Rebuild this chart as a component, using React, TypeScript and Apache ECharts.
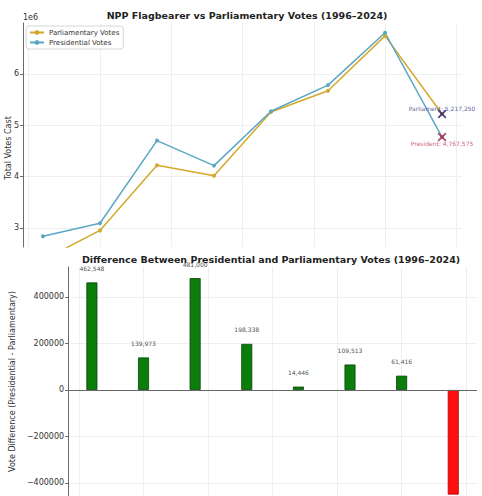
import React, { useEffect, useRef } from "react";
import * as echarts from "echarts";

const years = [1996, 2000, 2004, 2008, 2012, 2016, 2020, 2024];
const parliamentaryVotes = [2372330, 2950027, 4219000, 4013662, 5255554, 5670487, 6738584, 5217250];
const presidentialVotes = [2834878, 3090000, 4700000, 4212000, 5270000, 5780000, 6800000, 4767575];
const voteDifferences = [462548, 139973, 481000, 198338, 14446, 109513, 61416, -449675];
const lastParliament = [2024, 5217250];
const lastPresident = [2024, 4767575];

const FONT = "DejaVu Sans";
const fmt = (n: number) => Math.round(n).toLocaleString("en-US");
const xMark =
  "path://M0,1.5 L1.5,0 L5,3.5 L8.5,0 L10,1.5 L6.5,5 L10,8.5 L8.5,10 L5,6.5 L1.5,10 L0,8.5 L3.5,5 Z";

export default function App() {
  const ref = useRef<HTMLDivElement>(null);
  useEffect(() => {
    if (!ref.current) return;
    const chart = echarts.init(ref.current, undefined, { renderer: "svg" });
    const gridLine = { show: true, showMinLine: false, showMaxLine: false, lineStyle: { color: "#ebebeb", width: 0.8 } };
    const option: any = {
      animation: false,
      backgroundColor: "#ffffff",
      textStyle: { fontFamily: FONT },
      title: [
        {
          text: "NPP Flagbearer vs Parliamentary Votes (1996–2024)",
          left: 242,
          textAlign: "center",
          top: 5,
          textStyle: { fontSize: 9.5, fontWeight: "bold", color: "#222", fontFamily: FONT },
          z: 10,
        },
        {
          text: "Difference Between Presidential and Parliamentary Votes (1996–2024)",
          left: 266,
          textAlign: "center",
          top: 249,
          textStyle: { fontSize: 9.5, fontWeight: "bold", color: "#222", fontFamily: FONT },
          z: 10,
        },
      ],
      legend: {
        data: ["Parliamentary Votes", "Presidential Votes"],
        orient: "vertical",
        left: 26,
        top: 26,
        padding: [3, 4, 3, 3],
        itemGap: 3,
        itemWidth: 14,
        itemHeight: 6,
        borderColor: "#cccccc",
        borderWidth: 0.8,
        borderRadius: 3,
        backgroundColor: "rgba(255,255,255,0.85)",
        textStyle: { fontSize: 7, color: "#333", fontFamily: FONT },
      },
      graphic: [
        {
          type: "text",
          x: 8,
          y: 148,
          rotation: Math.PI / 2,
          style: {
            text: "Total Votes Cast",
            fontSize: 8,
            fontFamily: FONT,
            fill: "#333",
            align: "center",
            verticalAlign: "middle",
          },
        },
      ],
      grid: [
        { left: 23, right: 20, top: 23, height: 224 },
        { left: 55, right: 5, top: 267, bottom: 0 },
      ],
      xAxis: [
        {
          type: "value",
          gridIndex: 0,
          min: 1994.6,
          max: 2025.4,
          axisLine: { show: false },
          axisTick: { show: false },
          axisLabel: { show: false },
          splitLine: gridLine,
        },
        {
          type: "value",
          gridIndex: 1,
          min: 1994.16,
          max: 2025.84,
          axisLine: { show: false },
          axisTick: { show: false },
          axisLabel: { show: false },
          splitLine: gridLine,
        },
      ],
      yAxis: [
        {
          type: "value",
          gridIndex: 0,
          min: 2627000,
          max: 6990000,
          name: "1e6",
          nameLocation: "end",
          nameGap: 2,
          nameTextStyle: { align: "left", fontSize: 8, color: "#333", fontFamily: FONT },
          axisLine: { show: true, lineStyle: { color: "#444", width: 0.8 } },
          axisTick: { show: true, length: 3, lineStyle: { color: "#444", width: 0.8 } },
          axisLabel: {
            fontSize: 8,
            color: "#333",
            margin: 4,
            showMinLabel: false,
            showMaxLabel: false,
            formatter: (v: number) => String(Math.round(v / 1e6)),
          },
          splitLine: gridLine,
        },
        {
          type: "value",
          gridIndex: 1,
          min: -456000,
          max: 529000,
          name: "Vote Difference (Presidential - Parliamentary)",
          nameLocation: "middle",
          nameGap: 50,
          nameTextStyle: { fontSize: 8, color: "#333", fontFamily: FONT },
          axisLine: { show: true, onZero: false, lineStyle: { color: "#444", width: 0.8 } },
          axisTick: { show: true, length: 3, lineStyle: { color: "#444", width: 0.8 } },
          axisLabel: {
            fontSize: 8,
            color: "#333",
            margin: 4,
            showMinLabel: false,
            showMaxLabel: false,
            formatter: (v: number) => (v < 0 ? "\u2212" + Math.abs(v) : String(v)),
          },
          splitLine: gridLine,
        },
      ],
      series: [
        {
          name: "Parliamentary Votes",
          type: "line",
          xAxisIndex: 0,
          yAxisIndex: 0,
          data: years.map((y, i) => [y, parliamentaryVotes[i]]),
          symbol: "circle",
          symbolSize: 4,
          clip: true,
          color: "#d4a82a",
          lineStyle: { width: 1.5, color: "#d4a82a" },
          itemStyle: { color: "#d4a82a" },
          z: 3,
        },
        {
          name: "Presidential Votes",
          type: "line",
          xAxisIndex: 0,
          yAxisIndex: 0,
          data: years.map((y, i) => [y, presidentialVotes[i]]),
          symbol: "circle",
          symbolSize: 4,
          clip: true,
          color: "#5aa7c3",
          lineStyle: { width: 1.5, color: "#5aa7c3" },
          itemStyle: { color: "#5aa7c3" },
          z: 3,
        },
        {
          name: "ParliamentMark",
          type: "scatter",
          xAxisIndex: 0,
          yAxisIndex: 0,
          data: [lastParliament],
          symbol: xMark,
          symbolSize: 9,
          itemStyle: { color: "#241c6e" },
          label: {
            show: true,
            position: "inside",
            offset: [0, -6],
            fontSize: 6,
            color: "#30307a",
            fontFamily: FONT,
            formatter: (p: any) => "Parliament: " + fmt(p.value[1]),
          },
          z: 5,
        },
        {
          name: "PresidentMark",
          type: "scatter",
          xAxisIndex: 0,
          yAxisIndex: 0,
          data: [lastPresident],
          symbol: xMark,
          symbolSize: 9,
          itemStyle: { color: "#a82855" },
          label: {
            show: true,
            position: "inside",
            offset: [0, 6],
            fontSize: 6,
            color: "#c0304f",
            fontFamily: FONT,
            formatter: (p: any) => "President: " + fmt(p.value[1]),
          },
          z: 5,
        },
        {
          name: "Difference",
          type: "bar",
          xAxisIndex: 1,
          yAxisIndex: 1,
          barWidth: 11,
          data: years.map((y, i) => ({
            value: [y, voteDifferences[i]],
            itemStyle:
              voteDifferences[i] >= 0
                ? { color: "#0b7d0b", borderColor: "#064206", borderWidth: 0.8 }
                : { color: "#ff1010", borderColor: "#b00000", borderWidth: 0.8 },
          })),
          label: {
            show: true,
            position: "top",
            distance: 11,
            fontSize: 6,
            color: "#555",
            fontFamily: FONT,
            formatter: (p: any) => (p.value[1] >= 0 ? fmt(p.value[1]) : ""),
          },
          markLine: {
            silent: true,
            symbol: ["none", "none"],
            label: { show: false },
            lineStyle: { color: "#666", width: 1, type: "solid" },
            data: [{ yAxis: 0 }],
          },
          z: 3,
        },
      ],
    };
    chart.setOption(option);
    return () => chart.dispose();
  }, []);
  return (
    <div
      ref={ref}
      style={{ position: "absolute", left: 0, top: 0, width: 482, height: 496 }}
    />
  );
}
